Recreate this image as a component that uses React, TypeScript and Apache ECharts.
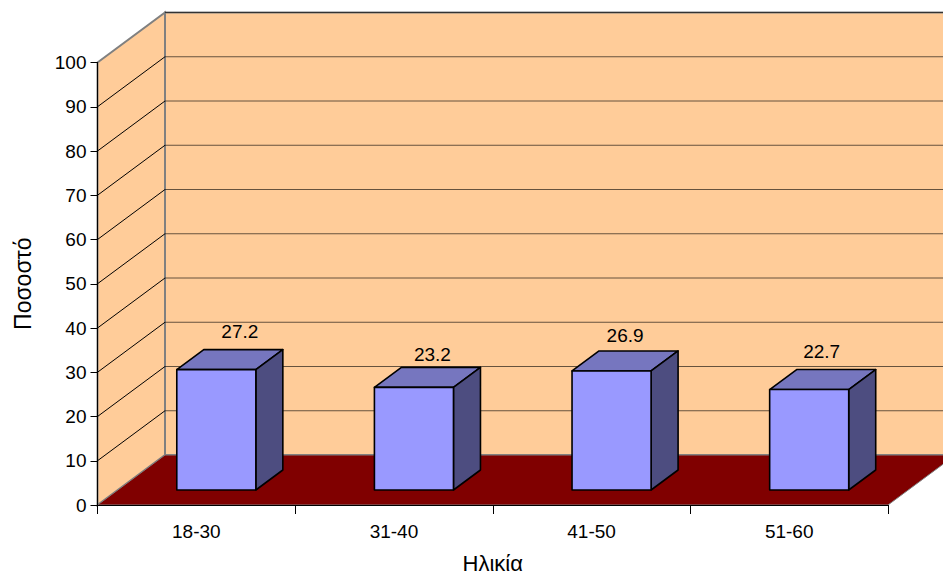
import React, { useEffect, useRef } from "react";
import * as echarts from "echarts";

const categories = ["18-30", "31-40", "41-50", "51-60"];
const percentages = [27.2, 23.2, 26.9, 22.7];
const yTicks = [0, 10, 20, 30, 40, 50, 60, 70, 80, 90, 100];
const yAxisTitle = "Ποσοστό";
const xAxisTitle = "Ηλικία";

const FONT = '"Liberation Sans", Arial, sans-serif';
const DEPTH_X = 67.5;
const DEPTH_Y = 50;
const labelNudges = [[10, -18], [5, -13], [0, -15], [-1, -18]];

function renderRoom(params: any, api: any) {
  const c = params.coordSys;
  const left = c.x;
  const right = c.x + c.width;
  const top = c.y;
  const bottom = c.y + c.height;
  const children: any[] = [
    {
      type: "polygon",
      shape: { points: [[left + DEPTH_X, top - DEPTH_Y], [right + 80, top - DEPTH_Y], [right + 80, bottom - DEPTH_Y], [left + DEPTH_X, bottom - DEPTH_Y]] },
      style: { fill: "#FFCC99", stroke: "#808080", lineWidth: 2 },
    },
    {
      type: "polygon",
      shape: { points: [[left, top], [left + DEPTH_X, top - DEPTH_Y], [left + DEPTH_X, bottom - DEPTH_Y], [left, bottom]] },
      style: { fill: "#FFCC99", stroke: "#808080", lineWidth: 2 },
    },
    {
      type: "polygon",
      shape: { points: [[left, bottom], [left + DEPTH_X, bottom - DEPTH_Y], [right + 80, bottom - DEPTH_Y], [right + DEPTH_X, bottom - DEPTH_Y], [right, bottom]] },
      style: { fill: "#800000", stroke: "#808080", lineWidth: 1 },
    },
  ];
  yTicks.forEach((t) => {
    if (t === 0) return;
    const y = api.coord([0, t])[1];
    if (t < 100) {
      children.push({
        type: "line",
        shape: { x1: left, y1: y, x2: left + DEPTH_X, y2: y - DEPTH_Y },
        style: { stroke: "#000000", lineWidth: 1 },
      });
    }
    children.push({
      type: "line",
      shape: { x1: left + DEPTH_X, y1: y - DEPTH_Y, x2: right + 80, y2: y - DEPTH_Y },
      style: { stroke: "#000000", lineWidth: 1, opacity: 0.6 },
    });
  });
  return { type: "group", children };
}

function renderBar(params: any, api: any) {
  const i = api.value(0);
  const v = api.value(1);
  const center = api.coord([i, 0])[0];
  const y0 = api.coord([i, 0])[1];
  const yv = api.coord([i, v])[1];
  const band = api.size([1, 0])[0];
  const w = band * 0.4;
  const dx = 27;
  const dy = 20;
  const l = center + 20 - w / 2;
  const r = l + w;
  const b = y0 - 15;
  const t = yv - 15;
  const edge = { stroke: "#000000", lineWidth: 1.6, lineJoin: "round" };
  const nudge = labelNudges[params.dataIndex];
  return {
    type: "group",
    children: [
      { type: "polygon", shape: { points: [[l, t], [l + dx, t - dy], [r + dx, t - dy], [r, t]] }, style: { fill: "#7676BF", ...edge } },
      { type: "polygon", shape: { points: [[r, t], [r + dx, t - dy], [r + dx, b - dy], [r, b]] }, style: { fill: "#4D4D80", ...edge } },
      { type: "polygon", shape: { points: [[l, t], [r, t], [r, b], [l, b]] }, style: { fill: "#9999FF", ...edge } },
      {
        type: "text",
        style: {
          x: l + w / 2 + dx / 2 + nudge[0],
          y: t - dy + nudge[1],
          text: String(v),
          fill: "#000000",
          font: `19px ${FONT}`,
          align: "center",
          verticalAlign: "middle",
        },
      },
    ],
  };
}

export default function App() {
  const ref = useRef<HTMLDivElement>(null);
  useEffect(() => {
    const chart = echarts.init(ref.current!, undefined, { renderer: "svg" });
    chart.setOption({
      animation: false,
      backgroundColor: "#FFFFFF",
      grid: { left: 97.5, right: 55, top: 62.5, bottom: 70, outerBoundsMode: "none" },
      xAxis: {
        type: "category",
        data: categories,
        z: 5,
        boundaryGap: true,
        name: xAxisTitle,
        nameLocation: "middle",
        nameGap: 47,
        nameTextStyle: { fontFamily: FONT, fontSize: 22, color: "#000" },
        axisLine: { lineStyle: { color: "#000", width: 1 } },
        axisTick: { show: true, length: 9, alignWithLabel: false, lineStyle: { color: "#000" } },
        axisLabel: { fontFamily: FONT, fontSize: 19, color: "#000", margin: 17 },
        splitLine: { show: false },
      },
      yAxis: {
        type: "value",
        min: 0,
        max: 100,
        interval: 10,
        z: 5,
        name: yAxisTitle,
        nameLocation: "middle",
        nameGap: 63,
        nameTextStyle: { fontFamily: FONT, fontSize: 23, color: "#000" },
        axisLine: { show: true, lineStyle: { color: "#000", width: 1 } },
        axisTick: { show: true, length: 7, lineStyle: { color: "#000" } },
        axisLabel: { fontFamily: FONT, fontSize: 19, color: "#000", margin: 11 },
        splitLine: { show: false },
      },
      series: [
        { type: "custom", z: 1, silent: true, data: [[0, 0]], renderItem: renderRoom, encode: { x: 0, y: 1 } },
        {
          type: "custom",
          z: 3,
          data: percentages.map((v, i) => [i, v]),
          renderItem: renderBar,
          encode: { x: 0, y: 1 },
        },
      ],
    });
    return () => chart.dispose();
  }, []);
  return <div ref={ref} style={{ position: "absolute", left: 0, top: 0, width: 943, height: 575 }} />;
}
